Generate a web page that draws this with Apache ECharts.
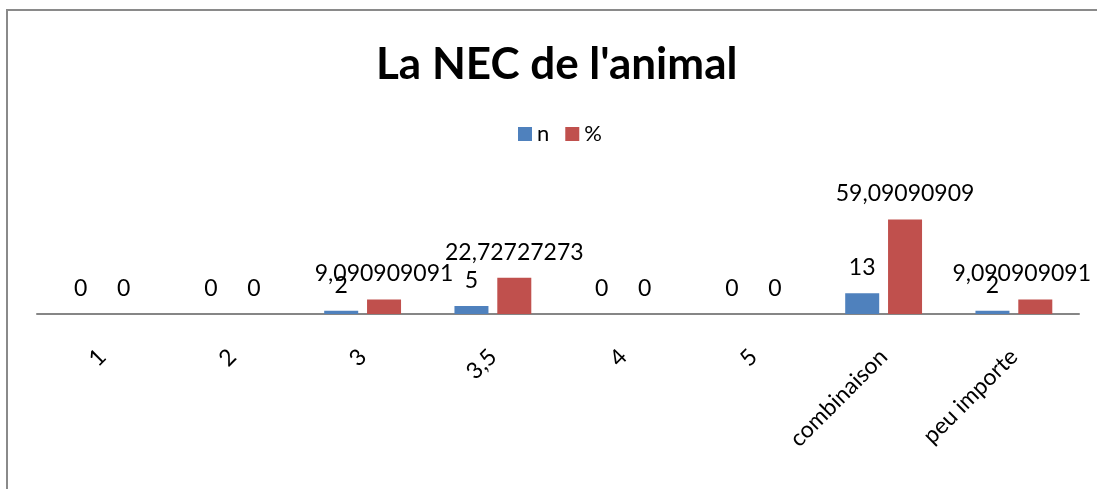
<!DOCTYPE html>
<html><head><meta charset="utf-8">
<script src="https://cdn.jsdelivr.net/npm/echarts@6/dist/echarts.min.js"></script>
<style>html,body{margin:0;padding:0;background:#fff}#c{width:1097px;height:489px}</style>
</head><body><div id="c"></div>
<script>
var categories = ['1', '2', '3', '3,5', '4', '5', 'combinaison', 'peu importe'];
var nValues = [0, 0, 2, 5, 0, 0, 13, 2];
var pctValues = [0, 0, 9.090909091, 22.72727273, 0, 0, 59.09090909, 9.090909091];
var labelText = { 'n': function (v) { return String(v); }, '%': function (v) { return String(v).replace('.', ','); } };

var font = 'Lato, "Open Sans", sans-serif';
var chart = echarts.init(document.getElementById('c'));
function lbl(name) {
  return {
    show: true, position: 'top', distance: 14, color: '#000', fontFamily: font, fontSize: 23,
    formatter: function (p) { return labelText[name](p.value); }
  };
}
function keepInside(p) {
  var over = p.labelRect.x + p.labelRect.width - 1091;
  return over > 0 ? { dx: -over } : {};
}
chart.setOption({
  animation: false,
  title: { text: "La NEC de l'animal", left: 371, top: 38, textStyle: { fontFamily: font, fontWeight: 'bold', fontSize: 44, color: '#000' } },
  legend: { top: 118, left: 513, itemWidth: 14, itemHeight: 14, itemGap: 16, icon: 'rect',
    textStyle: { fontFamily: font, fontSize: 22, color: '#000' }, data: ['n', '%'] },
  graphic: [{ type: 'rect', shape: { x: 7, y: 10, width: 1200, height: 600 }, style: { fill: 'none', stroke: '#8a8a8a', lineWidth: 2 } }],
  grid: { left: 37, right: 18, top: 218, bottom: 175 },
  xAxis: { type: 'category', data: categories,
    axisLine: { lineStyle: { color: '#868686', width: 2 } }, axisTick: { show: false },
    axisLabel: { rotate: 45, margin: 39, interval: 0, color: '#000', fontFamily: font, fontSize: 23 } },
  yAxis: { type: 'value', min: 0, max: 60, show: false, splitLine: { show: false } },
  series: [
    { name: 'n', type: 'bar', data: nValues, barWidth: 34, barGap: '26%', itemStyle: { color: '#4F81BD' }, label: lbl('n'), labelLayout: keepInside },
    { name: '%', type: 'bar', data: pctValues, barWidth: 34, itemStyle: { color: '#C0504D' }, label: lbl('%'), labelLayout: keepInside }
  ]
});
</script></body></html>
